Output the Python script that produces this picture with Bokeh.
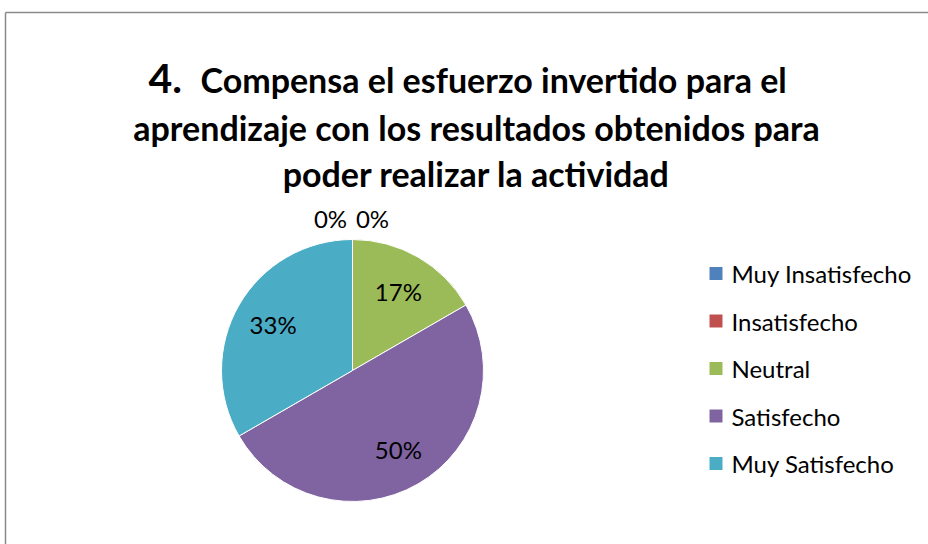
import numpy as np
from bokeh.plotting import figure
from bokeh.models import Range1d
from bokeh.core.properties import value
from bokeh.embed import file_html
from bokeh.resources import INLINE

# ---- data ----
categories = ["Muy Insatisfecho", "Insatisfecho", "Neutral", "Satisfecho", "Muy Satisfecho"]
counts = [0, 0, 1, 3, 2]
colors = ["#4F81BD", "#C0504D", "#9BBB59", "#8064A2", "#4BACC6"]
title_number = "4."
title_lines = ["Compensa el esfuerzo invertido para el",
               "aprendizaje con los resultados obtenidos para",
               "poder realizar la actividad"]

W, H = 928, 544
FONT = "Lato"

p = figure(width=W, height=H, x_range=Range1d(0, W), y_range=Range1d(0, H),
           output_backend="svg", toolbar_location=None,
           x_axis_type=None, y_axis_type=None,
           min_border=0, min_border_left=0, min_border_right=0,
           min_border_top=0, min_border_bottom=0)
p.grid.visible = False
p.outline_line_color = None
p.background_fill_color = "white"
p.border_fill_color = "white"

def Y(ys):
    return H - ys

# chart border (frame extends beyond window on right/bottom)
p.segment(x0=[5], y0=[Y(12)], x1=[W + 5], y1=[Y(12)], line_color="#8a8a8a", line_width=1.5)
p.segment(x0=[5], y0=[Y(12)], x1=[5], y1=[-5], line_color="#8a8a8a", line_width=1.5)

# ---- title ----
p.text(x=[148], y=[Y(78)], text=[title_number], text_font=value(FONT), text_font_style="bold",
       text_font_size="41px", text_color="black", text_align="left", text_baseline="alphabetic")
p.text(x=[200], y=[Y(79)], text=[title_lines[0]], text_font=value(FONT), text_font_style="bold",
       text_font_size="34px", text_color="black", text_align="left", text_baseline="alphabetic")
p.text(x=[476, 476], y=[Y(127), Y(173)], text=title_lines[1:], text_font=value(FONT),
       text_font_style="bold", text_font_size="34px", text_color="black",
       text_align="center", text_baseline="alphabetic")

# ---- pie ----
cx, cy, R = 352, Y(370), 131
vals = np.array(counts, dtype=float)
frac = vals / vals.sum()
cum = np.cumsum(frac)
prev = cum - frac
start = np.pi / 2 - 2 * np.pi * prev
end = np.pi / 2 - 2 * np.pi * cum
nz = frac > 0
p.wedge(x=cx, y=cy, radius=R, start_angle=list(start[nz]), end_angle=list(end[nz]),
        direction="clock", fill_color=[c for c, k in zip(colors, nz) if k],
        line_color="white", line_width=1)

# ---- data labels ----
mid = (start + end) / 2
lx, ly, lt = [], [], []
zero_i = 0
for i, f in enumerate(frac):
    txt = "%d%%" % round(f * 100)
    if f > 0:
        lx.append(cx + 0.70 * R * np.cos(mid[i]))
        ly.append(cy + 0.70 * R * np.sin(mid[i]))
    else:
        off = -22 if zero_i == 0 else 20
        zero_i += 1
        lx.append(cx + 1.16 * R * np.cos(mid[i]) + off)
        ly.append(cy + 1.16 * R * np.sin(mid[i]))
    lt.append(txt)
p.text(x=lx, y=ly, text=lt, text_font=value(FONT), text_font_size="24px",
       text_color="black", text_align="center", text_baseline="middle")

# ---- legend ----
rows = [Y(273 + 47.5 * i) for i in range(len(categories))]
p.rect(x=[715.5] * len(categories), y=rows, width=13, height=13,
       fill_color=colors, line_color=None)
p.text(x=[731] * len(categories), y=rows, text=categories, text_font=value(FONT),
       text_font_size="24px", text_color="black", text_align="left", text_baseline="middle")

open("out.html", "w").write(file_html(p, INLINE))
